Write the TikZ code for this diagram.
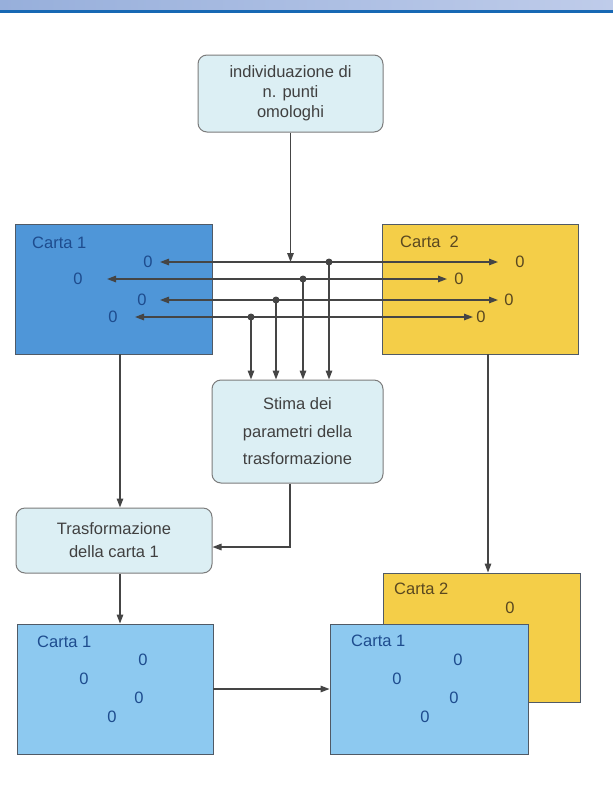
\documentclass[tikz,border=0pt]{standalone}
\usepackage{fontspec}
\setmainfont{Liberation Sans}
\usetikzlibrary{arrows.meta}
\definecolor{hdrL}{HTML}{97AFDB}
\definecolor{hdrR}{HTML}{BFCCEA}
\definecolor{hdrLine}{HTML}{1768B4}
\definecolor{darkblue}{HTML}{4F96D8}
\definecolor{lightblue}{HTML}{8DC9F0}
\definecolor{cyellow}{HTML}{F4CE48}
\definecolor{rfill}{HTML}{DCEFF4}
\definecolor{rline}{HTML}{7C7C7C}
\definecolor{rtext}{HTML}{404040}
\definecolor{lncol}{HTML}{454545}
\definecolor{boxline}{HTML}{505A66}
\definecolor{zblue}{HTML}{1E4C8E}
\definecolor{zbrown}{HTML}{5A4820}
\begin{document}
\begin{tikzpicture}[x=1pt,y=-1pt,
  font=\fontsize{16.5}{20}\selectfont,
  card/.style={draw=boxline, line width=0.9pt, inner sep=0pt},
  rbox/.style={draw=rline, fill=rfill, rounded corners=9pt, line width=1pt, align=center, text=rtext, inner sep=0pt},
  zb/.style={text=zblue, inner sep=0pt},
  zy/.style={text=zbrown, inner sep=0pt},
  lblb/.style={anchor=west, inner sep=0pt, text=zblue},
  lbly/.style={anchor=west, inner sep=0pt, text=zbrown},
  conn/.style={draw=lncol, line width=1.35pt, -{Triangle[length=9pt,width=6.5pt]}},
  conn2/.style={draw=lncol, line width=1.35pt, {Triangle[length=9pt,width=6.5pt]}-{Triangle[length=9pt,width=6.5pt]}},
  dot/.style={circle, fill=lncol, inner sep=0pt, minimum size=7pt}]
\useasboundingbox (0,0) rectangle (613,812);
\fill[white] (0,0) rectangle (613,812);
% header
\fill[left color=hdrL, right color=hdrR] (0,0) rectangle (613,10);
\fill[hdrLine] (0,10) rectangle (613,12.5);

% top rounded box
\node[rbox, minimum width=185pt, minimum height=77pt] (top) at (290.5,93.5)
  {individuazione di\\n. punti\\omologhi};

% top cards
\node[card, fill=darkblue, minimum width=197pt, minimum height=130pt] (c1) at (113.5,289) {};
\node[card, fill=cyellow, minimum width=196pt, minimum height=130pt] (c2) at (480,289) {};
\node[lblb] (c1l) at (32,243) {Carta 1};
\node[lbly] (c2l) at (400,242) {Carta~~2};

\node[zb] (zL1) at (148,262) {0};
\node[zb] (zL2) at (78,279) {0};
\node[zb] (zL3) at (142,300) {0};
\node[zb] (zL4) at (113,317) {0};
\node[zy] (zR1) at (520,262) {0};
\node[zy] (zR2) at (459,279) {0};
\node[zy] (zR3) at (509,300) {0};
\node[zy] (zR4) at (481,317) {0};

% stima box
\node[rbox, minimum width=171pt, minimum height=103pt, font=\fontsize{16.5}{27.5}\selectfont] (stima) at (297.5,431.5)
  {Stima dei\\parametri della\\trasformazione};

% trasformazione box
\node[rbox, minimum width=196pt, minimum height=65pt, font=\fontsize{16.5}{23}\selectfont] (trasf) at (114,540.5)
  {Trasformazione\\della carta 1};

% bottom cards
\node[card, fill=lightblue, minimum width=196pt, minimum height=130pt] (bl) at (115,689) {};
\node[lblb] (bll) at (37,642) {Carta 1};
\node[zb] (b1) at (143,660) {0};
\node[zb] (b2) at (84,679) {0};
\node[zb] (b3) at (139,698) {0};
\node[zb] (b4) at (112,717) {0};

\node[card, fill=cyellow, minimum width=197pt, minimum height=129pt] (bc2) at (481.5,637.5) {};
\node[lbly] (bc2l) at (394,589) {Carta 2};
\node[zy] (bz) at (510,608) {0};

\node[card, fill=lightblue, minimum width=198pt, minimum height=130pt] (br) at (429,689) {};
\node[lblb] (brl) at (351,641) {Carta 1};
\node[zb] (r1) at (458,660) {0};
\node[zb] (r2) at (397,679) {0};
\node[zb] (r3) at (454,698) {0};
\node[zb] (r4) at (425,717) {0};

% connectors
\draw[conn] (top.south) -- (top.south |- zL1.center);
\draw[conn2] ([xshift=12pt]zL1.center) -- ([xshift=-22pt]zR1.center);
\draw[conn2] ([xshift=29pt]zL2.center) -- ([xshift=-12pt]zR2.center);
\draw[conn2] ([xshift=18pt]zL3.center) -- ([xshift=-11pt]zR3.center);
\draw[conn2] ([xshift=22pt]zL4.center) -- ([xshift=-8pt]zR4.center);

\node[dot] (d1) at (329,262) {};
\node[dot] (d2) at (303,279) {};
\node[dot] (d3) at (276,300) {};
\node[dot] (d4) at (251,317) {};
\draw[conn] (d1.center) -- (d1.center |- stima.north);
\draw[conn] (d2.center) -- (d2.center |- stima.north);
\draw[conn] (d3.center) -- (d3.center |- stima.north);
\draw[conn] (d4.center) -- (d4.center |- stima.north);

\draw[conn] ([xshift=6.5pt]c1.south) -- ([xshift=6.5pt]c1.south |- trasf.north);
\draw[conn] ([xshift=-7.5pt]stima.south) |- ([yshift=-6.5pt]trasf.east);
\draw[conn] ([xshift=6pt]trasf.south) -- ([xshift=6pt]trasf.south |- bl.north);
\draw[conn] ([xshift=8pt]c2.south) -- ([xshift=8pt]c2.south |- bc2.north);
\draw[conn] (bl.east) -- (br.west);
\end{tikzpicture}
\end{document}
